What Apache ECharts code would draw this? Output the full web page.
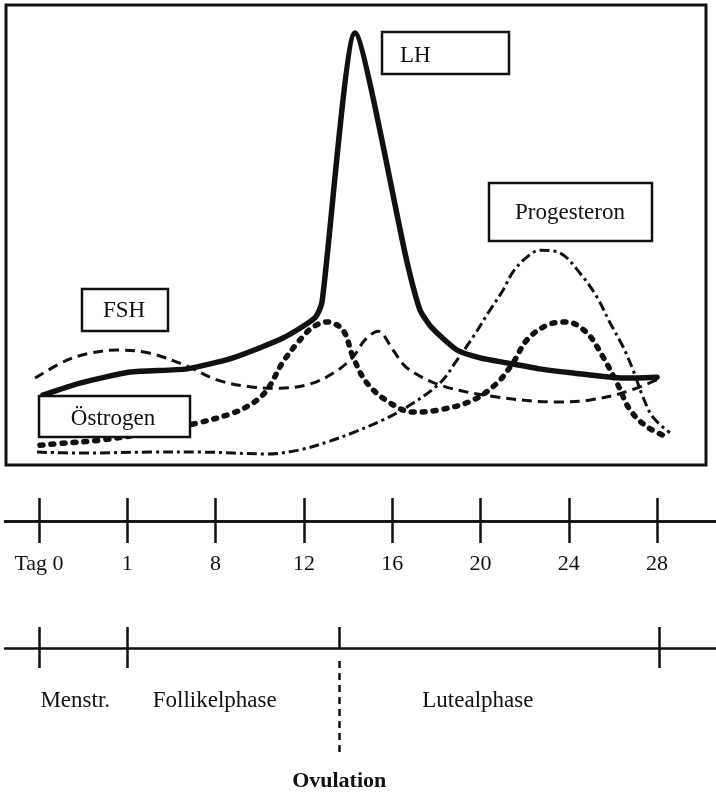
<!DOCTYPE html>
<html>
<head>
<meta charset="utf-8">
<script src="https://cdn.jsdelivr.net/npm/echarts@6/dist/echarts.min.js"></script>
<style>
html,body{margin:0;padding:0;background:#fff;}
#c{width:716px;height:792px;}
</style>
</head>
<body>
<div id="c"></div>
<script>
// ---- data ----
const tickPos = [0, 1, 2, 3, 4, 5, 6, 7];
const tickLabels = ['Tag 0', '1', '8', '12', '16', '20', '24', '28'];
const phaseTicks = [0, 1, 3.4, 7.03];
const phaseOuterTicks = [0, 1, 7.03];
const phaseLabelPos = [0.41, 1.99, 4.97];
const phaseNames = ['Menstr.', 'Follikelphase', 'Lutealphase'];
const ovulationPos = 3.4;
const ovulationLabel = 'Ovulation';
const seriesNames = ['LH', 'FSH', 'Östrogen', 'Progesteron'];

// positions along the cycle axis (tick units) and relative levels
const lhX = [0.045, 0.464, 1.031, 1.676, 2.197, 2.763, 3.126, 3.205, 3.579, 4.168, 4.315, 4.451, 4.734, 4.994, 5.300, 5.674, 6.048, 6.614, 6.999];
const lhY = [15.2, 17.8, 20.2, 20.9, 23.3, 27.6, 32.0, 35.4, 93.9, 44.1, 33.7, 29.8, 25.0, 23.3, 22.2, 20.9, 20.0, 18.9, 19.1];

const fshX = [-0.045, 0.317, 0.578, 0.883, 1.257, 1.676, 2.016, 2.390, 2.729, 3.069, 3.352, 3.556, 3.692, 3.839, 4.009, 4.168, 4.541, 5.108, 5.866, 6.229, 6.614, 6.999];
const fshY = [18.9, 22.8, 24.3, 25.0, 24.3, 21.5, 18.5, 17.0, 16.7, 17.6, 20.2, 23.5, 27.2, 29.1, 25.0, 21.1, 17.4, 15.0, 13.7, 14.1, 15.7, 18.5];

const oestX = [0.011, 0.317, 0.691, 1.257, 1.789, 2.197, 2.424, 2.582, 2.763, 2.956, 3.103, 3.262, 3.443, 3.556, 3.715, 3.975, 4.236, 4.541, 4.915, 5.187, 5.368, 5.526, 5.753, 5.980, 6.206, 6.387, 6.546, 6.693, 6.886, 7.112];
const oestY = [4.3, 4.8, 5.4, 7.0, 9.1, 11.3, 13.5, 16.3, 22.4, 27.2, 30.0, 31.1, 29.3, 23.5, 17.8, 13.5, 11.5, 12.0, 14.1, 17.8, 22.2, 27.2, 30.4, 31.1, 28.7, 23.5, 17.8, 12.0, 8.3, 6.1];

const progX = [-0.023, 0.498, 1.257, 1.823, 2.582, 2.956, 3.296, 3.579, 3.896, 4.168, 4.541, 4.734, 4.915, 5.108, 5.255, 5.368, 5.526, 5.674, 5.900, 6.127, 6.319, 6.467, 6.614, 6.727, 6.840, 6.953, 7.146];
const progY = [2.8, 2.6, 2.8, 2.8, 2.4, 3.3, 5.2, 7.2, 9.8, 12.6, 17.8, 22.8, 27.8, 33.7, 38.0, 42.0, 45.2, 46.7, 46.1, 41.7, 36.5, 30.9, 25.7, 20.7, 14.8, 10.4, 7.0];

// ---- build ----
const zip = (xs, ys) => xs.map((x, i) => [x, ys[i]]);
const FONT = '"Liberation Serif", "DejaVu Serif", serif';
const INK = '#111';
const X0 = 39, UNIT = 88.3; // pixel of tick 0 and pixels per tick step
const rangeFor = (l, r) => ({ min: (l - X0) / UNIT, max: (r - X0) / UNIT });
const r0 = rangeFor(6, 706);
const r1 = rangeFor(5, 716);

const chart = echarts.init(document.getElementById('c'), null, { renderer: 'canvas' });

const hiddenY = (g) => ({ type: 'value', gridIndex: g, min: 0, max: g === 0 ? 100 : 1, show: false });

const option = {
  animation: false,
  backgroundColor: '#fff',
  grid: [
    { left: 6, right: 10, top: 5, height: 460, show: true, borderColor: INK, borderWidth: 3, backgroundColor: 'transparent' },
    { left: 5, right: 0, top: 498, height: 23 },
    { left: 5, right: 0, top: 627, height: 21 },
    { left: 5, right: 0, top: 660, height: 92 }
  ],
  xAxis: [
    { type: 'value', gridIndex: 0, min: r0.min, max: r0.max, show: false },
    { type: 'value', gridIndex: 1, min: r1.min, max: r1.max, position: 'bottom',
      axisLine: { show: true, lineStyle: { color: INK, width: 2.5 } },
      axisTick: { show: true, inside: true, length: 23, customValues: tickPos, lineStyle: { color: INK, width: 2.5 } },
      axisLabel: { show: false }, splitLine: { show: false } },
    { type: 'value', gridIndex: 1, min: r1.min, max: r1.max, position: 'bottom',
      axisLine: { show: true, lineStyle: { color: INK, width: 2.5 } },
      axisTick: { show: true, inside: false, length: 22, customValues: tickPos, lineStyle: { color: INK, width: 2.5 } },
      axisLabel: { show: true, customValues: tickPos, margin: 32, fontFamily: FONT, fontSize: 22, color: INK,
        formatter: v => tickLabels[tickPos.indexOf(Math.round(v))] },
      splitLine: { show: false } },
    { type: 'value', gridIndex: 2, min: r1.min, max: r1.max, position: 'bottom',
      axisLine: { show: true, lineStyle: { color: INK, width: 2.5 } },
      axisTick: { show: true, inside: true, length: 21, customValues: phaseTicks, lineStyle: { color: INK, width: 2.5 } },
      axisLabel: { show: false }, splitLine: { show: false } },
    { type: 'value', gridIndex: 2, min: r1.min, max: r1.max, position: 'bottom',
      axisLine: { show: false },
      axisTick: { show: true, inside: false, length: 20, customValues: phaseOuterTicks, lineStyle: { color: INK, width: 2.5 } },
      axisLabel: { show: true, customValues: phaseLabelPos, margin: 41, fontFamily: FONT, fontSize: 23, color: INK,
        formatter: v => { let best = 0; phaseLabelPos.forEach((p, i) => { if (Math.abs(p - v) < Math.abs(phaseLabelPos[best] - v)) best = i; }); return phaseNames[best]; } },
      splitLine: { show: false } },
    { type: 'value', gridIndex: 3, min: r1.min, max: r1.max, show: false }
  ],
  yAxis: [hiddenY(0), hiddenY(1), hiddenY(2), hiddenY(3)],
  series: [
    { name: seriesNames[1], type: 'line', xAxisIndex: 0, yAxisIndex: 0, data: zip(fshX, fshY), smooth: 0.35, symbol: 'none', clip: false,
      lineStyle: { color: INK, width: 3, type: [10, 6] } },
    { name: seriesNames[3], type: 'line', xAxisIndex: 0, yAxisIndex: 0, data: zip(progX, progY), smooth: 0.35, symbol: 'none', clip: false,
      lineStyle: { color: INK, width: 3, type: [10, 4, 3, 4] } },
    { name: seriesNames[2], type: 'line', xAxisIndex: 0, yAxisIndex: 0, data: zip(oestX, oestY), smooth: 0.35, symbol: 'none', clip: false,
      lineStyle: { color: INK, width: 5.5, type: [3, 8], cap: 'round' } },
    { name: seriesNames[0], type: 'line', xAxisIndex: 0, yAxisIndex: 0, data: zip(lhX, lhY), smooth: 0.2, symbol: 'none', clip: false,
      lineStyle: { color: INK, width: 5.5, join: 'round', cap: 'round' } },
    { name: 'ovulation', type: 'line', xAxisIndex: 5, yAxisIndex: 3, data: [], symbol: 'none',
      markLine: { silent: true, symbol: 'none', animation: false,
        lineStyle: { color: INK, width: 2.5, type: [7, 5] },
        label: { show: true, position: 'start', distance: 18, formatter: ovulationLabel, fontFamily: FONT, fontSize: 22, fontWeight: 'bold', color: INK },
        data: [{ xAxis: ovulationPos }] } }
  ]
};

chart.setOption(option);

// label boxes for the hormone curves
const boxes = [
  { name: seriesNames[0], x: 382, y: 32, w: 127, h: 42, tx: 400, dy: 3, align: 'left' },
  { name: seriesNames[3], x: 489, y: 183, w: 163, h: 58, tx: 570, dy: 1, align: 'center' },
  { name: seriesNames[1], x: 82, y: 289, w: 86, h: 42, tx: 124, dy: 1, align: 'center' },
  { name: seriesNames[2], x: 39, y: 396, w: 151, h: 41, tx: 113, dy: 2, align: 'center' }
];
const graphic = [];
boxes.forEach(b => {
  graphic.push({ type: 'rect', z: 100, shape: { x: b.x, y: b.y, width: b.w, height: b.h },
    style: { fill: '#fff', stroke: INK, lineWidth: 2.5 } });
  graphic.push({ type: 'text', z: 101, x: b.tx, y: b.y + b.h / 2 + b.dy,
    style: { text: b.name, font: '23px ' + FONT, fill: INK, textAlign: b.align, textVerticalAlign: 'middle' } });
});
chart.setOption({ graphic: graphic });
</script>
</body>
</html>
